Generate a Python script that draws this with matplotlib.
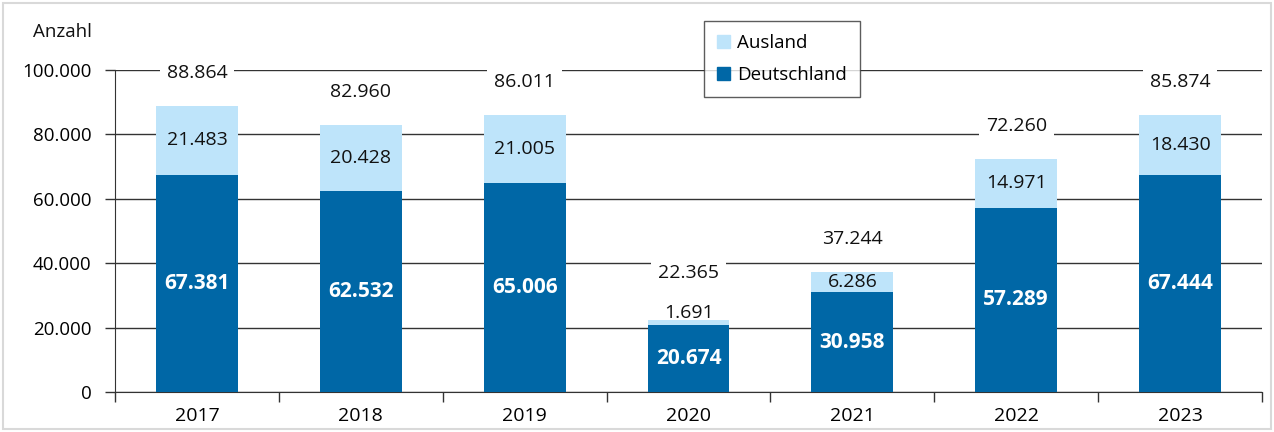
import matplotlib
matplotlib.use("Agg")
import matplotlib.pyplot as plt
from matplotlib.patches import Rectangle, Patch
import numpy as np

years = ["2017", "2018", "2019", "2020", "2021", "2022", "2023"]
deutschland = [67381, 62532, 65006, 20674, 30958, 57289, 67444]
ausland = [21483, 20428, 21005, 1691, 6286, 14971, 18430]
totals = [88864, 82960, 86011, 22365, 37244, 72260, 85874]
yticks = [0, 20000, 40000, 60000, 80000, 100000]

def fmt(v):
    return f"{v:,}".replace(",", ".")

plt.rcParams['font.family'] = ['Open Sans', 'DejaVu Sans']

dark = "#0067A6"
light = "#BEE4FA"

fig = plt.figure(figsize=(12.74, 4.32), dpi=100)
ax = fig.add_axes([115/1274, 1-392/432, (1262-115)/1274, (392-70)/432])

x = np.arange(len(years))
ax.bar(x, deutschland, width=0.5, color=dark, zorder=3, label="Deutschland")
ax.bar(x, ausland, width=0.5, bottom=deutschland, color=light, zorder=3, label="Ausland")

ax.set_xlim(-0.5, len(years) - 0.5)
ax.set_ylim(0, 100000)
ax.set_yticks(yticks)
ax.set_yticklabels([fmt(v) for v in yticks], fontsize=13.5)
ax.set_xticks(x)
ax.set_xticklabels(years, fontsize=14)
ax.tick_params(axis='x', length=0, pad=11)
ax.set_xticks(np.arange(len(years) + 1) - 0.5, minor=True)
ax.tick_params(axis='x', which='minor', length=7, width=1, color='#333333', direction='out')
ax.tick_params(axis='y', length=7, width=1, color='#333333', direction='out', pad=10)

ax.yaxis.grid(True, color='#333333', lw=1, zorder=0)
for s in ['top', 'right']:
    ax.spines[s].set_visible(False)
ax.spines['left'].set_color('#333333')
ax.spines['bottom'].set_color('#333333')

px = 100000 / 322.0  # data units per pixel
for i in range(len(years)):
    d, a, t = deutschland[i], ausland[i], totals[i]
    ax.text(i, d / 2, fmt(d), ha='center', va='center', color='white',
            fontsize=15, fontweight='bold', zorder=5)
    if a > 4000:
        ax.text(i, d + a / 2, fmt(a), ha='center', va='center', color='#111111',
                fontsize=14, zorder=5)
        ty = t + 33 * px
    else:
        ax.text(i, t + 7 * px, fmt(a), ha='center', va='center', color='#111111',
                fontsize=14, zorder=5)
        ty = t + 47 * px
    ax.text(i, ty, fmt(t), ha='center', va='center', color='#111111', fontsize=14,
            zorder=5, bbox=dict(boxstyle='square,pad=0.35', fc='white', ec='none'))

fig.text(62/1274, 1-32/432, "Anzahl", ha='center', va='center', fontsize=13.5, color='#111111')

handles = [Patch(color=light, label="Ausland"), Patch(color=dark, label="Deutschland")]
leg = fig.legend(handles=handles, loc='center', bbox_to_anchor=(782/1274, 1-59/432),
                 fontsize=13.5, frameon=True, fancybox=False, handlelength=0.7,
                 handleheight=0.7, handletextpad=0.4, borderpad=0.7, labelspacing=0.75,
                 edgecolor='#333333')
leg.get_frame().set_linewidth(1)
leg.set_zorder(10)

fig.add_artist(Rectangle((3/1274, 3/432), 1 - 6/1274, 1 - 6/432, transform=fig.transFigure,
                         fill=False, ec='#d9d9d9', lw=1.5))

fig.savefig("out.png", dpi=100)
